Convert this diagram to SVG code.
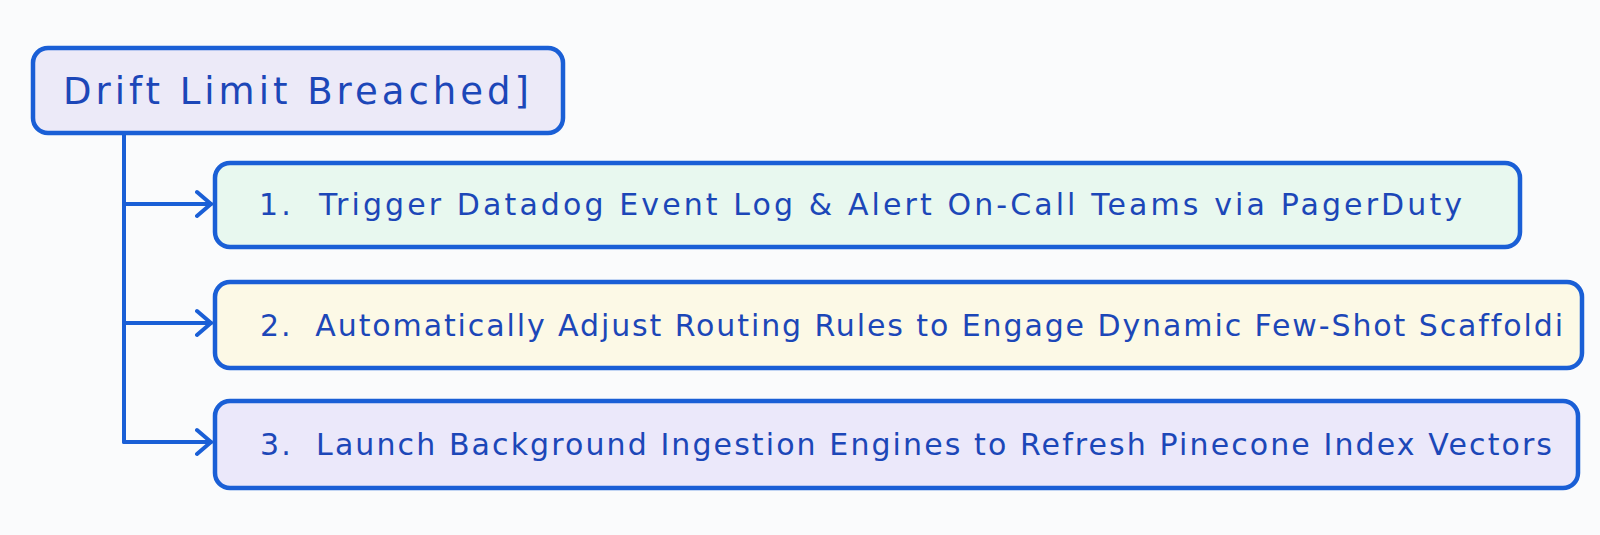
<svg xmlns="http://www.w3.org/2000/svg" width="1600" height="535" viewBox="0 0 1600 535">
  <defs>
    <style>
      .box { stroke: #1a5fd6; stroke-width: 4.5; }
      .lbl { font-family: "DejaVu Sans", "Liberation Sans", sans-serif; fill: #1c47b8; white-space: pre; font-variant-ligatures: none; }
      .edge { stroke: #1a5fd6; stroke-width: 4; fill: none; stroke-linecap: round; stroke-linejoin: round; }
    </style>
    <marker id="arr" markerWidth="20" markerHeight="30" refX="16" refY="13" orient="auto" markerUnits="userSpaceOnUse" viewBox="0 0 20 26">
      <path d="M2,1 L16,13 L2,25" fill="none" stroke="#1a5fd6" stroke-width="4" stroke-linecap="round" stroke-linejoin="round"/>
    </marker>
  </defs>
  <rect width="1600" height="535" fill="#fafbfc"/>
  <g id="connectors">
    <path class="edge" d="M124,133 L124,442"/>
    <path class="edge" d="M124,204 L211,204" marker-end="url(#arr)"/>
    <path class="edge" d="M124,323 L211,323" marker-end="url(#arr)"/>
    <path class="edge" d="M124,442 L211,442" marker-end="url(#arr)"/>
  </g>
  <g id="node-drift">
    <rect class="box" x="33" y="48" width="530" height="85" rx="15" fill="#eceaf8"/>
    <text class="lbl" x="63" y="104" font-size="37" textLength="466" lengthAdjust="spacing">Drift Limit Breached]</text>
  </g>
  <g id="node-step1">
    <rect class="box" x="215" y="163" width="1305" height="84" rx="15" fill="#e8f8ef"/>
    <text class="lbl" x="259" y="215" font-size="30" textLength="1203" lengthAdjust="spacing">1.  Trigger Datadog Event Log &amp; Alert On-Call Teams via PagerDuty</text>
  </g>
  <g id="node-step2">
    <rect class="box" x="215" y="282" width="1367" height="86" rx="15" fill="#fcf9e6"/>
    <text class="lbl" x="260" y="336" font-size="30" textLength="1303" lengthAdjust="spacing">2.  Automatically Adjust Routing Rules to Engage Dynamic Few-Shot Scaffoldi</text>
  </g>
  <g id="node-step3">
    <rect class="box" x="215" y="401" width="1363" height="87" rx="15" fill="#ebe8fa"/>
    <text class="lbl" x="260" y="455" font-size="30" textLength="1292" lengthAdjust="spacing">3.  Launch Background Ingestion Engines to Refresh Pinecone Index Vectors</text>
  </g>
</svg>
